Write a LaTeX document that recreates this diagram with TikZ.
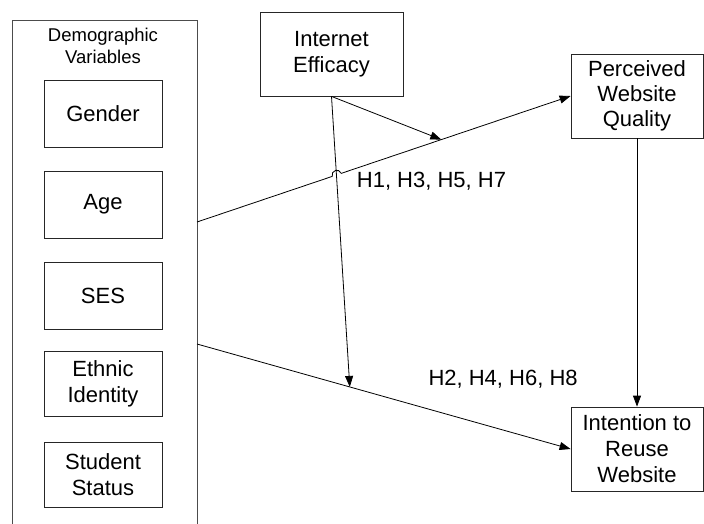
\documentclass[tikz,border=0pt]{standalone}
\usepackage{fontspec}
\setmainfont{Liberation Sans}
\usetikzlibrary{arrows.meta,calc}
\begin{document}
\begin{tikzpicture}[x=1pt,y=-1pt,
  box/.style={draw=black!85,line width=0.8pt,inner sep=0pt,align=center,
    font=\fontsize{22}{26}\selectfont},
  demobox/.style={box,minimum width=118pt},
  conn/.style={line width=0.8pt},
  arr/.style={conn,-{Triangle[length=11pt,width=8pt]}},
  lbl/.style={font=\fontsize{22}{26}\selectfont,inner sep=0pt,anchor=base west}]
\useasboundingbox (0,0) rectangle (704,523);
\clip (0,0) rectangle (704,523);
% outer demographic box (open at the bottom)
\node[draw=black!70,line width=0.9pt,minimum width=185pt,minimum height=560pt,
  anchor=north west,inner sep=0pt] (demo) at (12,20) {};
\node[align=center,inner sep=0pt,font=\fontsize{18.5}{22}\selectfont] (dtitle) at (103,46) {Demographic\\Variables};
\node[demobox,minimum height=67pt] (gender) at (103,113.5) {Gender};
\node[demobox,minimum height=67pt] (age) at (103,204.5) {Age};
\node[demobox,minimum height=67pt] (ses) at (103,295.5) {SES};
\node[demobox,minimum height=65pt] (ethnic) at (103,383.5) {Ethnic\\Identity};
\node[demobox,minimum height=65pt] (student) at (103,474.5) {Student\\Status};
% other boxes
\node[box,minimum width=143pt,minimum height=84pt] (ie) at (331.5,54) {Internet\\Efficacy};
\node[box,minimum width=132pt,minimum height=84pt,font=\fontsize{22}{25}\selectfont] (pwq) at (637,96) {Perceived\\Website\\Quality};
\node[box,minimum width=132pt,minimum height=84pt] (irw) at (637,449) {Intention to\\Reuse\\Website};
% connection points on the demographic box
\coordinate (a1) at (197,222);
\coordinate (a2) at (197,344);
\coordinate (hopL) at ($(a1)!0.362!(pwq.west)$);
\coordinate (hopR) at ($(a1)!0.386!(pwq.west)$);
\coordinate (tip1) at ($(a1)!0.654!(pwq.west)$);
\coordinate (tip2) at ($(a2)!0.409!(irw.west)$);
% connectors
\draw[arr] (a1) -- (hopL) .. controls ($(hopL)+(-1.9,-5.7)$) and ($(hopR)+(-1.9,-5.7)$) .. (hopR) -- (pwq.west);
\draw[arr] (a2) -- (irw.west);
\draw[arr] (ie.south) -- (tip1);
\draw[arr] (ie.south) -- (tip2);
\draw[arr] (pwq.south) -- (irw.north);
% labels
\node[lbl] (h1) at (356.7,187.3) {H1, H3, H5, H7};
\node[lbl] (h2) at (428.3,385) {H2, H4, H6, H8};
\end{tikzpicture}
\end{document}
